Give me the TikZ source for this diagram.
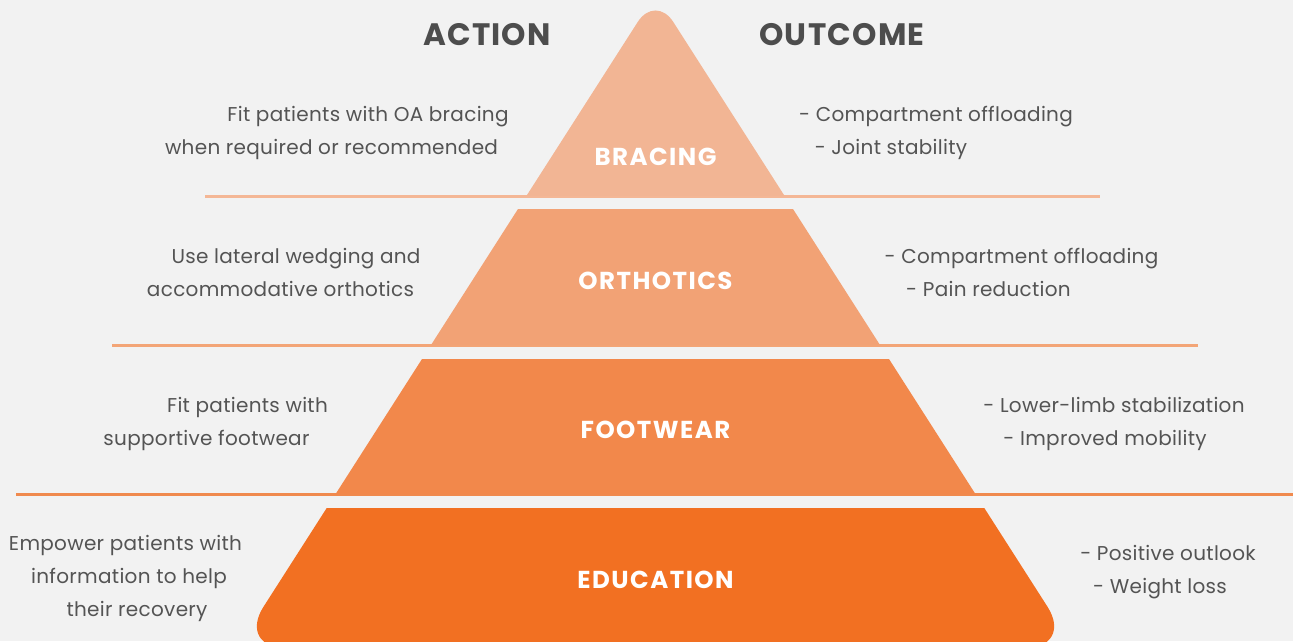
\documentclass[tikz,border=0pt]{standalone}
\usepackage{fontspec}
\setmainfont{Poppins}
\definecolor{bgc}{HTML}{F2F2F2}
\definecolor{brac}{HTML}{F2B594}
\definecolor{orth}{HTML}{F2A275}
\definecolor{foot}{HTML}{F2884B}
\definecolor{educ}{HTML}{F27022}
\definecolor{lineA}{HTML}{F4B796}
\definecolor{lineB}{HTML}{F3A577}
\definecolor{lineC}{HTML}{F08A4E}
\definecolor{txt}{HTML}{545454}
\definecolor{headc}{HTML}{4D4D4D}
\begin{document}
\begin{tikzpicture}[x=1pt,y=-1pt,
  body/.style={anchor=base, text=txt, font=\fontsize{20}{20}\selectfont\addfontfeature{LetterSpace=1.5}, inner sep=0pt},
  headtxt/.style={anchor=base, text=headc, font=\fontsize{31}{31}\selectfont\bfseries\addfontfeature{LetterSpace=4}, inner sep=0pt},
  layerlabel/.style={anchor=center, text=white, font=\fontsize{24.5}{24.5}\selectfont\bfseries\addfontfeature{LetterSpace=6}, inner sep=0pt},
  sepline/.style={line width=2.5pt}]
\useasboundingbox (0,0) rectangle (1293,641);
\fill[bgc] (0,0) rectangle (1293,641);
% separator lines
\coordinate (l1a) at (205,196.5); \coordinate (l1b) at (1100,196.5);
\coordinate (l2a) at (112,345.5); \coordinate (l2b) at (1198,345.5);
\coordinate (l3a) at (16,494.5);  \coordinate (l3b) at (1293,494.5);
\draw[sepline, lineA] (l1a) -- (l1b);
\draw[sepline, lineB] (l2a) -- (l2b);
\draw[sepline, lineC] (l3a) -- (l3b);
% layers
\begin{scope}
\clip (0,0) rectangle (1293,195);
\fill[brac, rounded corners=33pt] (495,245) -- (655.5,-5.8) -- (816,245) -- cycle;
\end{scope}
\fill[orth] (518,209) -- (793,209) -- (880,345) -- (431,345) -- cycle;
\fill[foot] (422,359) -- (889,359) -- (975.4,494) -- (335.6,494) -- cycle;
\begin{scope}
\clip (0,508) rectangle (1293,641);
\fill[educ, rounded corners=49pt] (358.7,458) -- (952.3,458) -- (1073.9,648) -- (237.1,648) -- cycle;
\end{scope}
% labels
\node[layerlabel] (lb1) at (655.5,156.7) {BRACING};
\node[layerlabel] (lb2) at (655.5,281.3) {ORTHOTICS};
\node[layerlabel] (lb3) at (655.5,430) {FOOTWEAR};
\node[layerlabel] (lb4) at (655.5,579.5) {EDUCATION};
% headings
\node[headtxt] (hA) at (487,45.5) {ACTION};
\node[headtxt] (hO) at (842,45.5) {OUTCOME};
% left texts
\node[body] (a11) at (368,121) {Fit patients with OA bracing};
\node[body] (a12) at (331.5,154) {when required or recommended};
\node[body] (a21) at (296,263) {Use lateral wedging and};
\node[body] (a22) at (280.5,296) {accommodative orthotics};
\node[body] (a31) at (247.5,412) {Fit patients with};
\node[body] (a32) at (206.5,445) {supportive footwear};
\node[body] (a41) at (125.5,550) {Empower patients with};
\node[body] (a42) at (129,583) {information to help};
\node[body] (a43) at (137,616) {their recovery};
% right texts
\node[body] (o11) at (936,121) {- Compartment offloading};
\node[body] (o12) at (891,154) {- Joint stability};
\node[body] (o21) at (1021.5,263) {- Compartment offloading};
\node[body] (o22) at (988.5,296) {- Pain reduction};
\node[body] (o31) at (1114,412) {- Lower-limb stabilization};
\node[body] (o32) at (1105,445) {- Improved mobility};
\node[body] (o41) at (1168,560) {- Positive outlook};
\node[body] (o42) at (1160,593) {- Weight loss};
\end{tikzpicture}
\end{document}
